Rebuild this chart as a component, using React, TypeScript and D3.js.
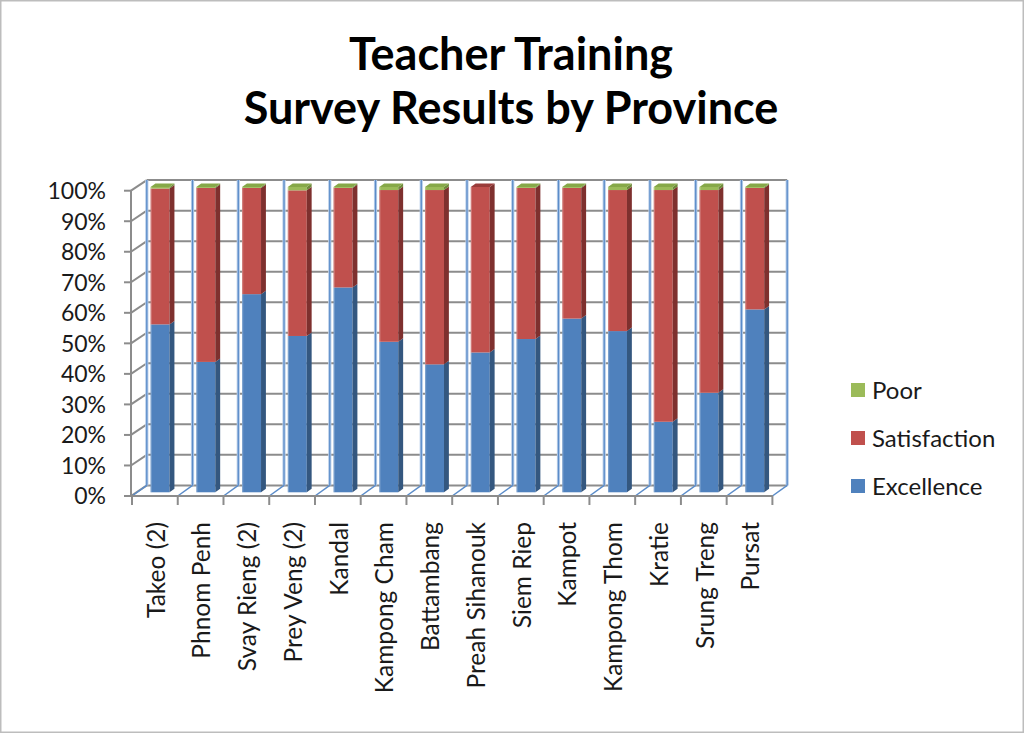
import React from "react";
import * as d3 from "d3";

const categories = [
  "Takeo (2)", "Phnom Penh", "Svay Rieng (2)", "Prey Veng (2)", "Kandal",
  "Kampong Cham", "Battambang", "Preah Sihanouk", "Siem Riep", "Kampot",
  "Kampong Thom", "Kratie", "Srung Treng", "Pursat",
];
const excellence = [55.0, 42.7, 64.9, 51.2, 67.1, 49.3, 41.9, 45.8, 50.2, 56.9, 52.8, 23.1, 32.6, 59.9];
const satisfaction = [44.5, 57.0, 34.8, 47.7, 32.6, 49.7, 57.1, 54.2, 49.5, 42.8, 46.2, 75.9, 66.4, 39.8];
const poor = [0.5, 0.3, 0.3, 1.1, 0.3, 1.0, 1.0, 0.0, 0.3, 0.3, 1.0, 1.0, 1.0, 0.3];
const yTicks = [0, 0.1, 0.2, 0.3, 0.4, 0.5, 0.6, 0.7, 0.8, 0.9, 1.0];
const seriesNames = ["Excellence", "Satisfaction", "Poor"];
const legendOrder = ["Poor", "Satisfaction", "Excellence"];

const colors: Record<string, { front: string; side: string; top: string }> = {
  Excellence: { front: "#4F81BD", side: "#34577F", top: "#6F98CB" },
  Satisfaction: { front: "#C0504D", side: "#7E302E", top: "#9A3C3A" },
  Poor: { front: "#9BBB59", side: "#6E8A3A", top: "#86A848" },
};

const FONT = "Lato, 'Open Sans', sans-serif";
const W = 1024, H = 733;
const DX = 14.8, DY = -10.6;

export default function App() {
  const x = d3.scaleBand<string>().domain(categories).range([132, 772.4]).paddingInner(0).paddingOuter(0);
  const y = d3.scaleLinear().domain([0, 1]).range([496, 190.7]);
  const bw = x.bandwidth();
  const barW = bw * 0.415;
  const f0 = 0.35, f1 = 0.68;

  const stackData = categories.map((c, i) => ({
    cat: c, Excellence: excellence[i], Satisfaction: satisfaction[i], Poor: poor[i],
  }));
  const stack = d3.stack<any>().keys(seriesNames).offset(d3.stackOffsetExpand);
  const series = stack(stackData);

  const boundaries = d3.range(categories.length + 1).map((i) => 132 + i * bw);

  const bars: React.ReactNode[] = [];
  categories.forEach((c, ci) => {
    const cx = (x(c) as number) + bw / 2;
    const fx = cx - barW / 2 + DX * f0;
    const fdy = DY * f0;
    const sx = DX * (f1 - f0), sy = DY * (f1 - f0);
    let topKey = "";
    series.forEach((s) => {
      const [a, b] = s[ci];
      if (b - a > 0) topKey = s.key;
    });
    series.forEach((s) => {
      const [a, b] = s[ci];
      if (b - a <= 0) return;
      const col = colors[s.key];
      const yb = y(a) + fdy, yt = y(b) + fdy;
      bars.push(
        <g key={c + s.key}>
          <rect x={fx} y={yt} width={barW} height={yb - yt} fill={col.front} />
          <rect x={fx} y={yt} width={1.2} height={yb - yt} fill="#ffffff" opacity={0.25} />
          <path d={`M${fx + barW},${yb}L${fx + barW + sx},${yb + sy}L${fx + barW + sx},${yt + sy}L${fx + barW},${yt}Z`} fill={col.side} />
          {s.key === topKey && (
            <path d={`M${fx},${yt}L${fx + sx},${yt + sy}L${fx + barW + sx},${yt + sy}L${fx + barW},${yt}Z`} fill={col.top} />
          )}
        </g>
      );
    });
  });

  return (
    <svg width={W} height={H} style={{ position: "absolute", left: 0, top: 0, background: "#fff" }} fontFamily={FONT}>
      <rect x={0.75} y={0.75} width={W - 1.5} height={H - 1.5} fill="#fff" stroke="#bdbdbd" strokeWidth={1.5} />
      <text x={511} y={70} textAnchor="middle" fontSize={45} fontWeight={700} fill="#000">Teacher Training</text>
      <text x={511} y={124} textAnchor="middle" fontSize={45} fontWeight={700} fill="#000">Survey Results by Province</text>

      {/* back wall gridlines */}
      {yTicks.map((t) => (
        <line key={"bg" + t} x1={132 + DX} x2={772.4 + DX} y1={y(t) + DY} y2={y(t) + DY} stroke="#8c8c8c" strokeWidth={2} />
      ))}
      {/* left wall gridlines */}
      {yTicks.map((t) => (
        <line key={"lg" + t} x1={131} x2={132 + DX} y1={y(t)} y2={y(t) + DY} stroke="#8c8c8c" strokeWidth={2} />
      ))}
      {/* category boundary lines on back wall and floor */}
      {boundaries.map((bx, i) => (
        <g key={"cb" + i}>
          <line x1={bx + DX} x2={bx + DX} y1={y(0) + DY} y2={y(1) + DY} stroke="#b7cde9" strokeWidth={3.2} />
          <line x1={bx + DX} x2={bx + DX} y1={y(0) + DY} y2={y(1) + DY} stroke="#5b8cc9" strokeWidth={1.3} />
          <line x1={bx} x2={bx + DX} y1={y(0)} y2={y(0) + DY} stroke="#5b8cc9" strokeWidth={1.5} />
        </g>
      ))}
      {/* axes */}
      <line x1={131} x2={131} y1={y(0)} y2={y(1)} stroke="#8c8c8c" strokeWidth={2} />
      <line x1={131} x2={773} y1={y(0)} y2={y(0)} stroke="#8c8c8c" strokeWidth={2} />
      {yTicks.map((t) => (
        <g key={"yt" + t}>
          <line x1={124} x2={131} y1={y(t)} y2={y(t)} stroke="#8c8c8c" strokeWidth={2} />
          <text x={106} y={y(t)} dy="0.36em" textAnchor="end" fontSize={23} fill="#1a1a1a">{d3.format(".0%")(t)}</text>
        </g>
      ))}
      {boundaries.map((bx, i) => (
        <line key={"xt" + i} x1={bx} x2={bx} y1={y(0)} y2={y(0) + 9} stroke="#8c8c8c" strokeWidth={2} />
      ))}

      {bars}

      {categories.map((c) => {
        const cx = (x(c) as number) + bw / 2 + 1;
        return (
          <text key={"cl" + c} transform={`translate(${cx},522) rotate(-90)`} dy="0.36em" textAnchor="end" fontSize={24.5} fill="#1a1a1a">{c}</text>
        );
      })}

      {legendOrder.map((k, i) => (
        <g key={"lg" + k} transform={`translate(851,${390 + i * 48})`}>
          <rect x={0} y={-7} width={14} height={14} fill={colors[k].front} />
          <text x={21} y={0} dy="0.36em" fontSize={24} fill="#1a1a1a">{k}</text>
        </g>
      ))}
    </svg>
  );
}
